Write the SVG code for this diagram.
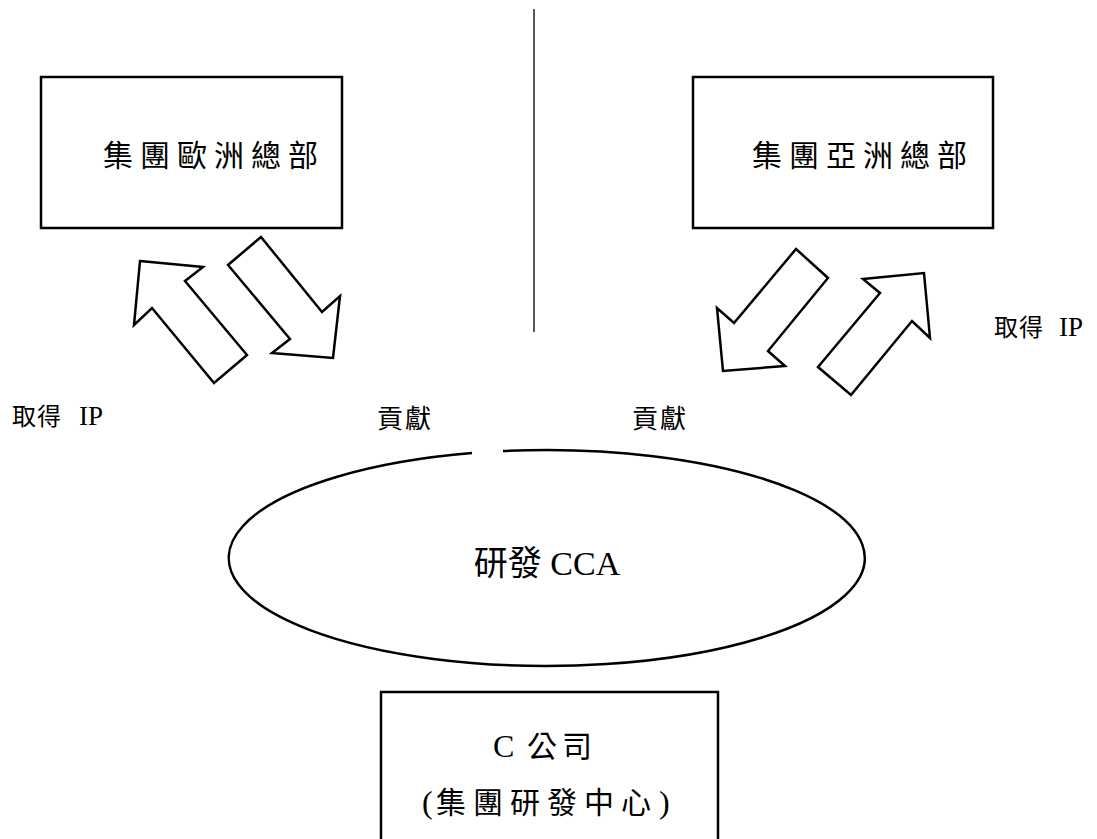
<svg xmlns="http://www.w3.org/2000/svg" width="1097" height="839" viewBox="0 0 1097 839">
<style>
.box{fill:#fff;stroke:#000;stroke-width:2.5}
.arr{fill:#fff;stroke:#000;stroke-width:2.5;stroke-linejoin:miter}
.t{font-family:"Liberation Serif","Noto Sans CJK TC",serif;fill:#000}
.big{font-size:30px;letter-spacing:7px}
.sm{font-size:24px;letter-spacing:1px}
.lat{font-size:27px;letter-spacing:0}
</style>
<rect width="1097" height="839" fill="#fff"/>
<g id="divider"><line x1="534" y1="9" x2="534" y2="332" stroke="#222" stroke-width="1.5"/></g>
<g id="europe-hq">
<rect class="box" x="41" y="77" width="301" height="151"/>
<text class="t big" x="103" y="166">集團歐洲總部</text>
</g>
<g id="asia-hq">
<rect class="box" x="693" y="77" width="300" height="151"/>
<text class="t big" x="752" y="166">集團亞洲總部</text>
</g>
<g id="cca">
<path class="box" fill="none" d="M 503 451 A 318 108 0 1 1 472 453"/>
<text class="t" x="547" y="575" font-size="34" text-anchor="middle">研發 CCA</text>
</g>
<g id="c-company">
<rect class="box" x="381" y="692" width="337" height="160"/>
<text class="t" font-size="30" y="757"><tspan x="493" font-size="32">C</tspan><tspan x="527" letter-spacing="5">公司</tspan></text>
<text class="t" font-size="30" y="813"><tspan x="422" font-size="32">(</tspan><tspan x="436" letter-spacing="7">集團研發中心</tspan><tspan x="659" font-size="32">)</tspan></text>
</g>
<g id="connectors">
<polygon class="arr" points="140,261 203,267 185,281 247,355 214,383 152,308 134,325"/>
<polygon class="arr" points="261,237 322,312 340,296 333,358 272,353 290,339 228,265"/>
<polygon class="arr" points="796,249 828,278 768,351 785,366 723,371 717,308 734,323"/>
<polygon class="arr" points="924,273 930,338 912,321 851,395 818,367 880,293 863,279"/>
</g>
<g id="labels">
<text class="t sm" y="425"><tspan x="12">取得</tspan><tspan class="lat" x="79">IP</tspan></text>
<text class="t" font-size="26" letter-spacing="2" x="377" y="428">貢獻</text>
<text class="t" font-size="26" letter-spacing="2" x="632" y="428">貢獻</text>
<text class="t sm" y="336"><tspan x="994">取得</tspan><tspan class="lat" x="1059">IP</tspan></text>
</g>
</svg>
